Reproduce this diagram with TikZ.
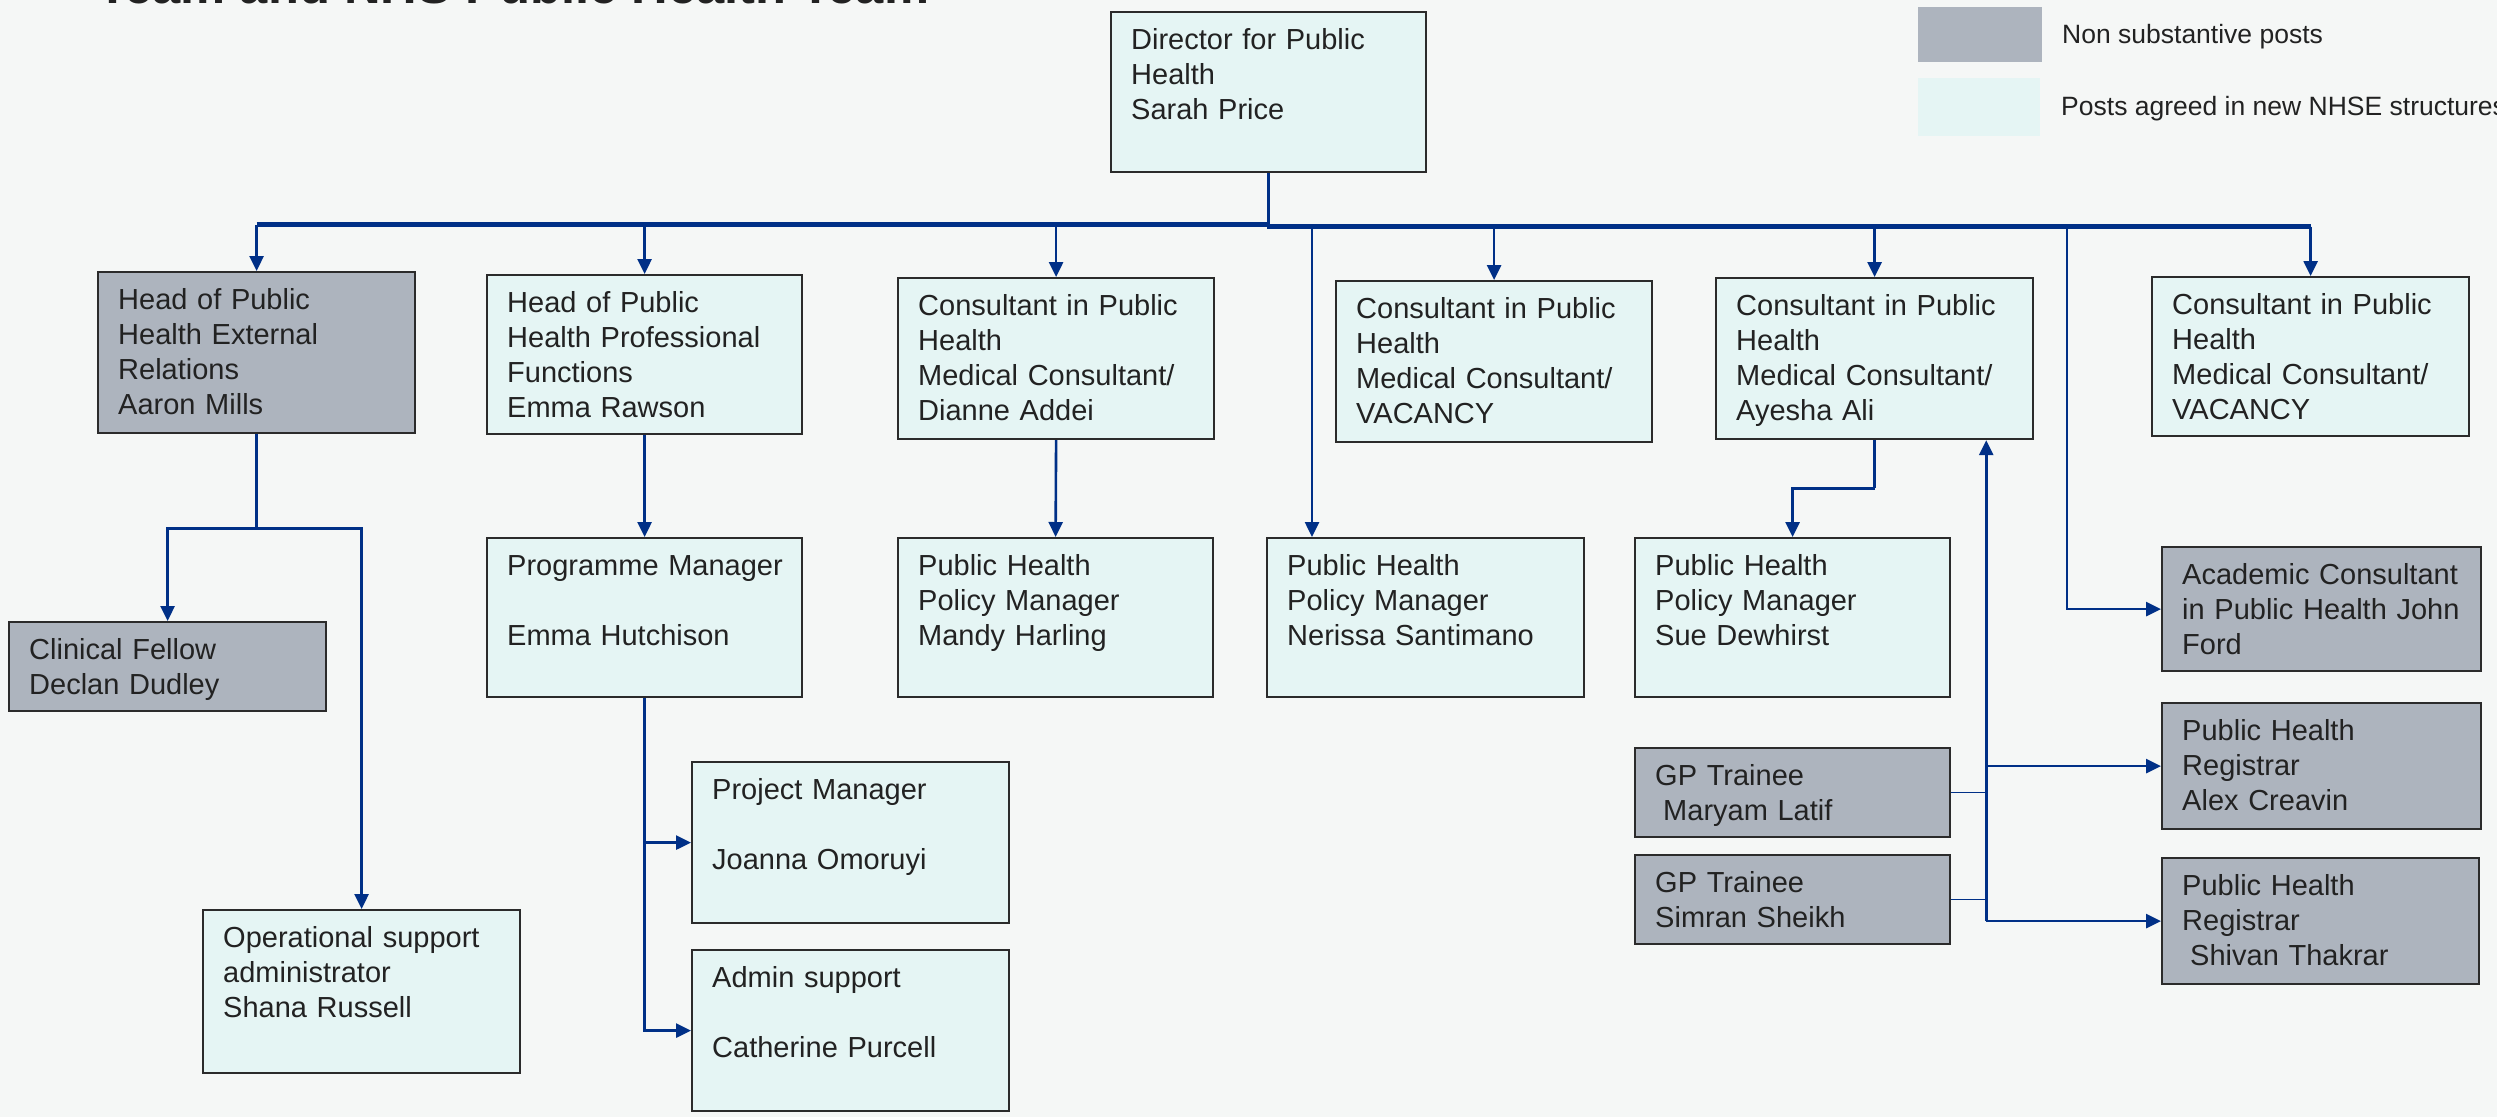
\documentclass[tikz,border=0pt]{standalone}
\usepackage{fontspec}
\setmainfont{Liberation Sans}
\usetikzlibrary{arrows.meta,calc}
\definecolor{bg}{HTML}{F5F7F6}
\definecolor{lightfill}{HTML}{E5F5F4}
\definecolor{grayfill}{HTML}{ADB4BE}
\definecolor{boxline}{HTML}{2B2B2B}
\definecolor{nhsblue}{HTML}{003087}
\definecolor{textc}{HTML}{222222}
\tikzset{
  boxbase/.style={draw=boxline, line width=2.2pt, anchor=north west, inner sep=0pt, rectangle},
  lightbox/.style={boxbase, fill=lightfill},
  graybox/.style={boxbase, fill=grayfill},
  txt/.style={anchor=base west, inner sep=0pt, text=textc, font=\fontsize{29}{35}\selectfont, align=left, text width=400pt},
  legtxt/.style={anchor=base west, inner sep=0pt, text=textc, font=\fontsize{26.5}{31}\selectfont},
  conn/.style={draw=nhsblue, line width=2.6pt},
  thinconn/.style={draw=nhsblue, line width=1.3pt},
  arr/.style={conn, -{Triangle[length=15pt,width=14pt]}},
}
% style, name, x1, y1, x2, y2, text
\newcommand\orgbox[7]{%
  \node[#1, minimum width={(#5-#3)*1pt}, minimum height={(#6-#4)*1pt}] (#2) at (#3,#4) {};
  \node[txt] (#2t) at ({#3+21},{#4+38}) {#7};
}
\begin{document}
\begin{tikzpicture}[x=1pt,y=-1pt]
\clip (0,0) rectangle (2497,1117);
\fill[bg] (0,0) rectangle (2497,1117);

% cut-off title
\node[anchor=base west, inner sep=0pt, text=textc, font=\fontsize{50.7}{60}\selectfont\bfseries] (title) at (97,3.5) {Team and NHS Public Health Team};

% legend
\node[anchor=north west, fill=grayfill, minimum width=124pt, minimum height=55pt, inner sep=0pt] (leg1) at (1918,7) {};
\node[anchor=north west, fill=lightfill, minimum width=122pt, minimum height=58pt, inner sep=0pt] (leg2) at (1918,78) {};
\node[legtxt] (leg1t) at (2062,43) {Non substantive posts};
\node[legtxt] (leg2t) at (2061,115) {Posts agreed in new NHSE structures};

% boxes
\orgbox{lightbox}{dir}{1110}{11}{1425}{171}{Director for Public\\Health\\Sarah Price}
\orgbox{graybox}{hext}{97}{271}{414}{432}{Head of Public\\Health External\\Relations\\Aaron Mills}
\orgbox{lightbox}{hprof}{486}{274}{801}{433}{Head of Public\\Health Professional\\Functions\\Emma Rawson}
\orgbox{lightbox}{cdia}{897}{277}{1213}{438}{Consultant in Public\\Health\\Medical Consultant/\\Dianne Addei}
\orgbox{lightbox}{cvaca}{1335}{280}{1651}{441}{Consultant in Public\\Health\\Medical Consultant/\\VACANCY}
\orgbox{lightbox}{cay}{1715}{277}{2032}{438}{Consultant in Public\\Health\\Medical Consultant/\\Ayesha Ali}
\orgbox{lightbox}{cvacb}{2151}{276}{2468}{435}{Consultant in Public\\Health\\Medical Consultant/\\VACANCY}
\orgbox{graybox}{clin}{8}{621}{325}{710}{Clinical Fellow\\Declan Dudley}
\orgbox{lightbox}{op}{202}{909}{519}{1072}{Operational support\\administrator\\Shana Russell}
\orgbox{lightbox}{pm}{486}{537}{801}{696}{Programme Manager\\[35pt]Emma Hutchison}
\orgbox{lightbox}{proj}{691}{761}{1008}{922}{Project Manager\\[35pt]Joanna Omoruyi}
\orgbox{lightbox}{adm}{691}{949}{1008}{1110}{Admin support\\[35pt]Catherine Purcell}
\orgbox{lightbox}{mandy}{897}{537}{1212}{696}{Public Health\\Policy Manager\\Mandy Harling}
\orgbox{lightbox}{ner}{1266}{537}{1583}{696}{Public Health\\Policy Manager\\Nerissa Santimano}
\orgbox{lightbox}{sue}{1634}{537}{1949}{696}{Public Health\\Policy Manager\\Sue Dewhirst}
\orgbox{graybox}{gpa}{1634}{747}{1949}{836}{GP Trainee\\\hspace*{8pt}Maryam Latif}
\orgbox{graybox}{gpb}{1634}{854}{1949}{943}{GP Trainee\\Simran Sheikh}
\orgbox{graybox}{acad}{2161}{546}{2480}{670}{Academic Consultant\\in Public Health John\\Ford}
\orgbox{graybox}{alex}{2161}{702}{2480}{828}{Public Health\\Registrar\\Alex Creavin}
\orgbox{graybox}{shiv}{2161}{857}{2478}{983}{Public Health\\Registrar\\\hspace*{8pt}Shivan Thakrar}

% trunk (left half slightly higher than right half)
\coordinate (tj) at ($(dir.south)+(0,51.5)$);
\coordinate (tk) at ($(tj)+(0,2)$);
\draw[conn, line width=3pt] (dir.south) -- (tj);
\draw[conn, line width=5pt] (tj -| hext.north) -- (tj);
\draw[conn, line width=5pt] ($(tk)+(-1.5,0)$) -- (tk -| cvacb.north);
\foreach \n in {hext,hprof}{
  \draw[arr] (tj -| \n.north) -- (\n.north);
}
\foreach \n in {cdia,cvaca,cay,cvacb}{
  \draw[arr] (tk -| \n.north) -- (\n.north);
}
\coordinate (nx) at ($(ner.north west)+(46,0)$);
\draw[arr] (tk -| nx) -- (nx);
\coordinate (ax) at ($(acad.west)+(-94,0)$);
\draw[arr] (tk -| ax) |- (acad.west);

% second level
\coordinate (hj) at ($(hext.south)+(0,94)$);
\draw[conn] (hext.south) -- (hj);
\draw[arr] (hj) -| (clin.north);
\draw[arr] (hj) -| (op.north);
\draw[arr] (hprof.south) -- (pm.north);
\draw[arr] (pm.south) |- (proj.west);
\draw[arr] (pm.south) |- (adm.west);
\draw[arr] (cdia.south) -- (mandy.north);
\coordinate (aj) at ($(cay.south)+(0,48)$);
\draw[conn] (cay.south) -- (aj);
\draw[arr] (aj) -| (sue.north);

% registrar bus
\coordinate (vx) at ($(cay.south east)+(-48,0)$);
\coordinate (vb) at (vx |- shiv.west);
\draw[arr] (vb) -- (vx);
\draw[arr] (vb) -- (shiv.west);
\draw[arr] (vb |- alex.west) -- (alex.west);
\draw[thinconn] (gpa.east) -- (vb |- gpa.east);
\draw[thinconn] (gpb.east) -- (vb |- gpb.east);
\end{tikzpicture}
\end{document}
